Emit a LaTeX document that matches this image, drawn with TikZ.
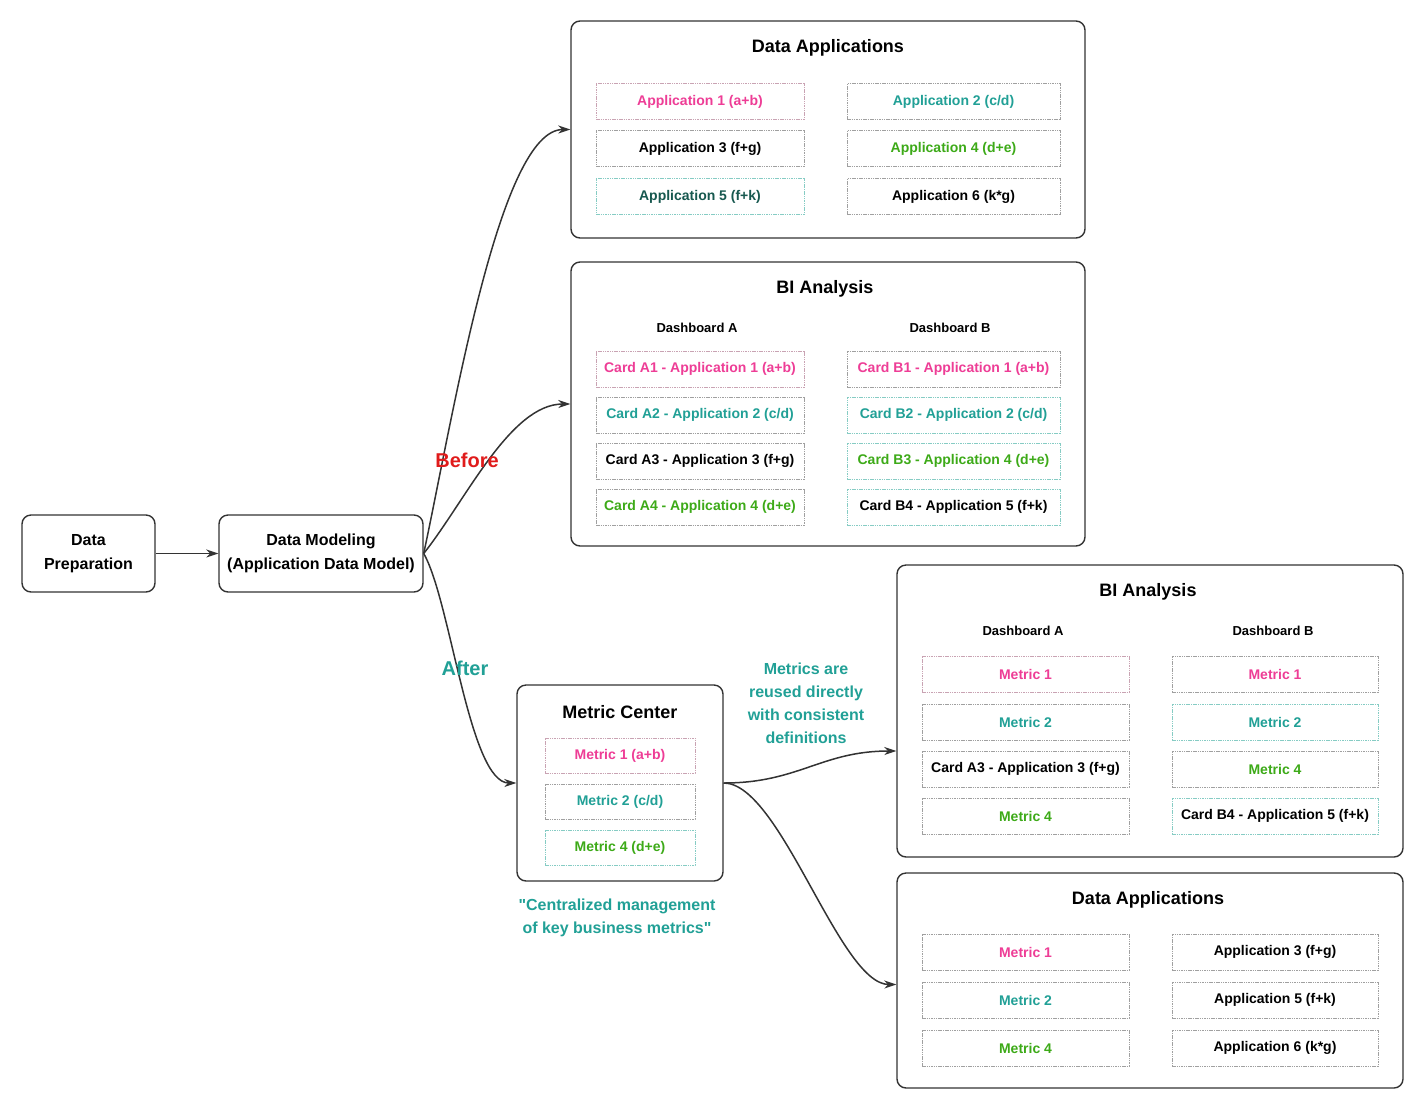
\documentclass[tikz,border=0pt]{standalone}
\usepackage{fontspec}
\setmainfont{Liberation Sans}[Ligatures=TeXOff]
\usetikzlibrary{arrows.meta}
\definecolor{cpink}{HTML}{EE3D96}
\definecolor{cteal}{HTML}{21A096}
\definecolor{cgreen}{HTML}{3DAA18}
\definecolor{cdteal}{HTML}{17584F}
\definecolor{cred}{HTML}{E01B1B}
\definecolor{cline}{HTML}{333333}
\definecolor{bgray}{HTML}{A0A0A0}
\definecolor{bpink}{HTML}{C9A3B3}
\definecolor{bteal}{HTML}{86CCC4}
\begin{document}
\begin{tikzpicture}[x=1pt,y=-1pt,
  outer/.style={draw=cline,line width=1.4pt,rounded corners=9pt,fill=white},
  ib/.style={draw=#1,line width=0.8pt,dash pattern=on 1.5pt off 0.8pt,fill=white,
    minimum height=36pt,inner sep=0pt,font=\bfseries\fontsize{14}{16}\selectfont},
  ib/.default=bgray,
  ttl/.style={font=\bfseries\fontsize{18}{20}\selectfont},
  dash lbl/.style={font=\bfseries\fontsize{13}{15}\selectfont},
  main/.style={draw=cline,line width=1.4pt,rounded corners=9pt,fill=white,align=center,
    font=\bfseries\fontsize{16}{24}\selectfont},
  conn/.style={draw=cline,line width=1.5pt,-{Stealth[length=12pt,width=8pt]}},
  note/.style={font=\bfseries\fontsize{16}{23}\selectfont,align=center}
]
\useasboundingbox (0,0) rectangle (1425,1104);

% main nodes
\node[main,minimum width=133pt,minimum height=77pt] (dp) at (88.5,553.5) {Data\\Preparation};
\node[main,minimum width=204pt,minimum height=77pt] (dm) at (321,553.5) {Data Modeling\\(Application Data Model)};

% top Data Applications
\node[outer,minimum width=514pt,minimum height=217pt] (tda) at (828,129.5) {};
\node[ttl] (tdat) at (828,48) {Data Applications};
\node[ib=bpink,minimum width=208pt,text=cpink] (ta1) at (700,101.5) {Application 1 (a+b)};
\node[ib,minimum width=213pt,text=cteal] (ta2) at (953.5,101.5) {Application 2 (c/d)};
\node[ib,minimum width=208pt] (ta3) at (700,148.5) {Application 3 (f+g)};
\node[ib,minimum width=213pt,text=cgreen] (ta4) at (953.5,148.5) {Application 4 (d+e)};
\node[ib=bteal,minimum width=208pt,text=cdteal] (ta5) at (700,196.5) {Application 5 (f+k)};
\node[ib,minimum width=213pt] (ta6) at (953.5,196.5) {Application 6 (k*g)};

% top BI Analysis
\node[outer,minimum width=514pt,minimum height=284pt] (tbi) at (828,404) {};
\node[ttl] (tbit) at (825,289) {BI Analysis};
\node[dash lbl] (tbda) at (697,328) {Dashboard A};
\node[dash lbl] (tbdb) at (950,328) {Dashboard B};
\node[ib=bpink,minimum width=208pt,text=cpink] (ca1) at (700,369) {Card A1 - Application 1 (a+b)};
\node[ib,minimum width=208pt,text=cteal] (ca2) at (700,415) {Card A2 - Application 2 (c/d)};
\node[ib,minimum width=208pt] (ca3) at (700,461) {Card A3 - Application 3 (f+g)};
\node[ib,minimum width=208pt,text=cgreen] (ca4) at (700,507) {Card A4 - Application 4 (d+e)};
\node[ib,minimum width=213pt,text=cpink] (cb1) at (953.5,369) {Card B1 - Application 1 (a+b)};
\node[ib=bteal,minimum width=213pt,text=cteal] (cb2) at (953.5,415) {Card B2 - Application 2 (c/d)};
\node[ib=bteal,minimum width=213pt,text=cgreen] (cb3) at (953.5,461) {Card B3 - Application 4 (d+e)};
\node[ib=bteal,minimum width=213pt] (cb4) at (953.5,507) {Card B4 - Application 5 (f+k)};

% Metric Center
\node[outer,minimum width=206pt,minimum height=196pt] (mc) at (620,783) {};
\node[ttl] (mct) at (620,712) {Metric Center};
\node[ib=bpink,minimum width=150pt,minimum height=35pt,text=cpink] (m1) at (620,755.5) {Metric 1 (a+b)};
\node[ib,minimum width=150pt,minimum height=35pt,text=cteal] (m2) at (620,801.5) {Metric 2 (c/d)};
\node[ib=bteal,minimum width=150pt,minimum height=35pt,text=cgreen] (m4) at (620,847.5) {Metric 4 (d+e)};

% bottom BI Analysis
\node[outer,minimum width=506pt,minimum height=292pt] (bbi) at (1150,711) {};
\node[ttl] (bbit) at (1148,592) {BI Analysis};
\node[dash lbl] (bbda) at (1023,631) {Dashboard A};
\node[dash lbl] (bbdb) at (1273,631) {Dashboard B};
\node[ib=bpink,minimum width=207pt,text=cpink] (ba1) at (1025.5,674) {Metric 1};
\node[ib,minimum width=207pt,text=cteal] (ba2) at (1025.5,722) {Metric 2};
\node[ib,minimum width=207pt] (ba3) at (1025.5,769) {Card A3 - Application 3 (f+g)};
\node[ib,minimum width=207pt,text=cgreen] (ba4) at (1025.5,816) {Metric 4};
\node[ib,minimum width=206pt,text=cpink] (bb1) at (1275,674) {Metric 1};
\node[ib=bteal,minimum width=206pt,text=cteal] (bb2) at (1275,722) {Metric 2};
\node[ib,minimum width=206pt,text=cgreen] (bb3) at (1275,769) {Metric 4};
\node[ib=bteal,minimum width=206pt] (bb4) at (1275,816) {Card B4 - Application 5 (f+k)};

% bottom Data Applications
\node[outer,minimum width=506pt,minimum height=215pt] (bda) at (1150,980.5) {};
\node[ttl] (bdat) at (1148,900) {Data Applications};
\node[ib,minimum width=207pt,text=cpink] (da1) at (1025.5,952) {Metric 1};
\node[ib,minimum width=207pt,text=cteal] (da2) at (1025.5,1000) {Metric 2};
\node[ib,minimum width=207pt,text=cgreen] (da3) at (1025.5,1048) {Metric 4};
\node[ib,minimum width=206pt] (db1) at (1275,952) {Application 3 (f+g)};
\node[ib,minimum width=206pt] (db2) at (1275,1000) {Application 5 (f+k)};
\node[ib,minimum width=206pt] (db3) at (1275,1048) {Application 6 (k*g)};

% connectors
\draw[conn] (dp.east) -- (dm.west);
\draw[conn] (dm.east) .. controls +(30,-140) and +(-71,0) .. (tda.west);
\draw[conn] (dm.east) .. controls +(42,-53) and +(-60,0) .. (tbi.west);
\draw[conn] (dm.east) .. controls +(27,47) and +(-47,0) .. (mc.west);
\draw[conn] (mc.east) .. controls +(75,0) and +(-75,0) .. ([yshift=-40pt]bbi.west);
\draw[conn] (mc.east) .. controls +(57,0) and +(-57,0) .. ([yshift=-4pt]bda.west);

% labels
\node[font=\bfseries\fontsize{20}{22}\selectfont,text=cred] (before) at (467,460) {Before};
\node[font=\bfseries\fontsize{20}{22}\selectfont,text=cteal] (after) at (465,668) {After};
\node[note,text=cteal] (reuse) at (806,703) {Metrics are\\reused directly\\with consistent\\definitions};
\node[note,text=cteal] (central) at (617,917.5) {"Centralized management\\of key business metrics"};
\end{tikzpicture}
\end{document}
